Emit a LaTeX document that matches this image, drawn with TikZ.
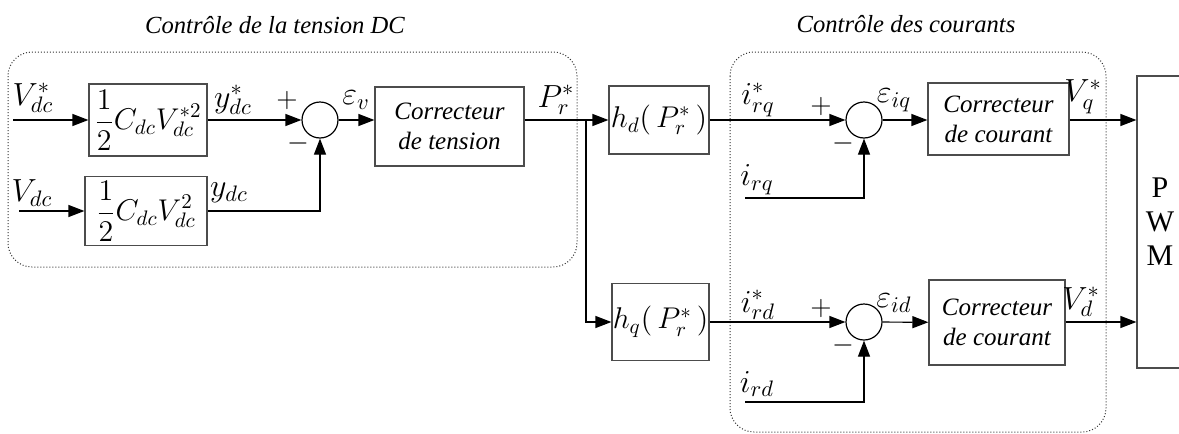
\RequirePackage{fix-cm}
\documentclass[tikz,border=0pt]{standalone}
\usepackage{fontspec}
\setmainfont{Liberation Serif}
\usetikzlibrary{arrows.meta}

\tikzset{
  block/.style={draw=black!70,line width=0.6pt,inner sep=0pt,align=center,font=\fontsize{12.5}{15}\selectfont\itshape},
  mblock/.style={draw=black!70,line width=0.6pt,inner sep=0pt,font=\fontsize{15}{17}\selectfont},
  sumnode/.style={draw,circle,line width=0.6pt,minimum size=18pt,inner sep=0pt},
  lab/.style={font=\fontsize{16}{18}\selectfont,inner sep=1pt},
  sgn/.style={font=\fontsize{14}{16}\selectfont,inner sep=0pt},
  grp/.style={draw=black!80,densely dotted,line width=0.5pt,rounded corners=12pt},
  ttl/.style={font=\fontsize{12.3}{14.5}\selectfont\itshape},
  sig/.style={line width=0.6pt,-{Triangle[length=8pt,width=6pt]}}
}

\begin{document}
\begin{tikzpicture}[x=0.5pt,y=-0.5pt]
\useasboundingbox (0,0) rectangle (1179,434);

% dotted groups
\draw [grp] (8,52) rectangle (577,267);
\draw [grp] (730,52) rectangle (1106,432);
\node (t1) at (275,25) [ttl] {Contrôle de la tension DC};
\node (t2) at (906,24) [ttl] {Contrôle des courants};

% dc voltage loop
\node (b1) at (148,120) [mblock,minimum width=59pt,minimum height=36pt] {$\displaystyle\frac{1}{2}C_{dc}V_{dc}^{*2}$};
\node (b2) at (146,211) [mblock,minimum width=61pt,minimum height=34.5pt] {$\displaystyle\frac{1}{2}C_{dc}V_{dc}^{2}$};
\node (s1) at (320,120) [sumnode] {};
\node (cv) at (449.5,126.5) [block,minimum width=74.5pt,minimum height=39.5pt] {Correcteur\\de tension};
\coordinate (in1) at (13,120);
\coordinate (in2) at (19,211);
\coordinate (br) at (586,120);

\draw [sig] (in1) -- (b1);
\draw [sig] (in2) -- (b2);
\draw [sig] (b1) -- (s1);
\draw [sig] (b2) -| (s1);
\draw [sig] (s1) -- (s1 -| cv.west);

\node (lv1) at (33,98) [lab] {$V_{dc}^{*}$};
\node (lv2) at (32,193) [lab] {$V_{dc}$};
\node (ly1) at (233,100) [lab] {$y_{dc}^{*}$};
\node (ly2) at (229,193) [lab] {$y_{dc}$};
\node (p1) at (287,100) [sgn] {$+$};
\node (m1) at (298,143) [sgn] {$-$};
\node (le1) at (356,100) [lab] {$\varepsilon_v$};
\node (lp) at (556,100) [lab] {$P_r^{*}$};

% current loops
\node (hd) at (659,120) [mblock,minimum width=50pt,minimum height=34pt] {$h_d(\,P_r^{*}\,)$};
\node (hq) at (660.5,322) [mblock,minimum width=48.5pt,minimum height=38.5pt] {$h_q(\,P_r^{*}\,)$};
\node (sq) at (864,120) [sumnode] {};
\node (sd) at (864,322) [sumnode] {};
\node (ccq) at (998.5,119) [block,minimum width=70.5pt,minimum height=36pt] {Correcteur\\de courant};
\node (ccd) at (997,322.5) [block,minimum width=68pt,minimum height=42.5pt] {Correcteur\\de courant};
\node (pwm) at (1160,222) [block,font=\fontsize{15}{17}\selectfont,minimum width=23pt,minimum height=146pt] {P\\W\\M};
\coordinate (irq) at (745,198);
\coordinate (ird) at (745,402);

\draw [sig] (cv.east |- s1) -- (hd);
\draw [sig] (br) |- (hq);
\draw [sig] (hd) -- (sq);
\draw [sig] (hq) -- (sd);
\draw [sig] (sq) -- (sq -| ccq.west);
\draw [sig] (sd) -- (ccd);
\draw [sig] (ccq.east |- sq) -- (sq -| pwm.west);
\draw [sig] (ccd.east |- sd) -- (sd -| pwm.west);
\draw [sig] (irq) -| (sq);
\draw [sig] (ird) -| (sd);

\node (li1) at (758,100) [lab] {$i_{rq}^{*}$};
\node (p2) at (821,106) [sgn] {$+$};
\node (m2) at (843,143) [sgn] {$-$};
\node (le2) at (894,100) [lab] {$\varepsilon_{iq}$};
\node (lvq) at (1083,97) [lab] {$V_q^{*}$};
\node (li2) at (757,180) [lab] {$i_{rq}$};
\node (li3) at (758,305) [lab] {$i_{rd}^{*}$};
\node (p3) at (821,308) [sgn] {$+$};
\node (m3) at (843,345) [sgn] {$-$};
\node (le3) at (894,303) [lab] {$\varepsilon_{id}$};
\node (lvd) at (1081,302) [lab] {$V_d^{*}$};
\node (li4) at (757,384) [lab] {$i_{rd}$};

\end{tikzpicture}
\end{document}
